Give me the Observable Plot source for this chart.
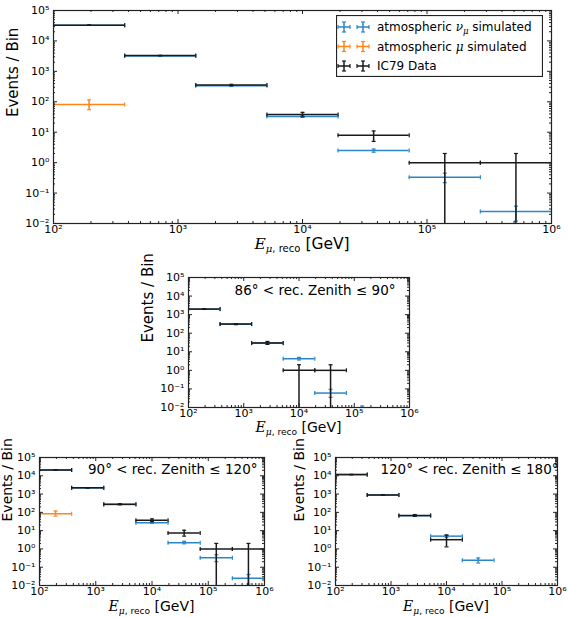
<!DOCTYPE html>
<html><head><meta charset="utf-8">
<script src="https://cdn.jsdelivr.net/npm/d3@7"></script>
<script src="https://cdn.jsdelivr.net/npm/@observablehq/plot@0.6"></script>
<style>
body{margin:0;background:#fff;}
#wrap{position:relative;width:568px;height:617px;font-family:"DejaVu Sans",sans-serif;overflow:hidden;}
.panel{position:absolute;}
.panel svg{overflow:visible;}
</style></head>
<body><div id="wrap"></div>
<script>
// ---------- binning (log-spaced reconstructed energy bins, GeV) ----------
const edgesLow  = [100, 373, 1389, 5179, 19307, 71969, 268270];
const edgesHigh = [373, 1389, 5179, 19307, 71969, 268270, 1000000];
const centers   = [193, 720, 2683, 10000, 37276, 138950, 517947];

const xTicks = [1e2, 1e3, 1e4, 1e5, 1e6];
const yTicks = [1e-2, 1e-1, 1e0, 1e1, 1e2, 1e3, 1e4, 1e5];

// ---------- all zenith ----------
const allNu       = [33000, 3200, 335, 33, 2.5, 0.33, 0.025];
const allNuLow    = [32500, 3120, 322, 31, 2.2, 0.22, 0.012];
const allNuHigh   = [33500, 3280, 348, 35, 2.8, 0.45, 0.037];
const allMu       = [82, null, null, null, null, null, null];
const allMuLow    = [55];
const allMuHigh   = [115];
const allData     = [33000, 3300, 355, 38, 8, 1, 1];
const allDataLow  = [32820, 3240, 336, 32, 5, 0.001, 0.001];
const allDataHigh = [33180, 3360, 374, 45, 11, 2, 2];

// ---------- 86° < zenith <= 90° ----------
const horNu       = [1950, 300, 29, 4.2, 0.06, 0.006, null];
const horNuLow    = [1900, 290, 27, 3.6, 0.035, 0.002];
const horNuHigh   = [2000, 310, 31, 5.0, 0.095, 0.012];
const horData     = [2000, 310, 30, 1, 1, null, null];
const horDataLow  = [1955, 292, 25, 0.001, 0.001];
const horDataHigh = [2045, 328, 36, 2, 2];

// ---------- 90° < zenith <= 120° ----------
const midNu       = [20500, 2150, 265, 27, 2.2, 0.33, 0.025];
const midNuLow    = [20200, 2100, 255, 25, 1.9, 0.2, 0.012];
const midNuHigh   = [20800, 2200, 275, 29, 2.6, 0.48, 0.04];
const midMu       = [85, null, null, null, null, null, null];
const midMuLow    = [62];
const midMuHigh   = [118];
const midData     = [21000, 2200, 280, 37, 7.5, 1, 1];
const midDataLow  = [20850, 2150, 263, 31, 5, 0.001, 0.001];
const midDataHigh = [21150, 2250, 297, 44, 10.5, 2, 2];

// ---------- 120° < zenith <= 180° ----------
const upNu        = [12000, 880, 66, 5.0, 0.24, null, null];
const upNuLow     = [11800, 860, 62, 4.3, 0.17];
const upNuHigh    = [12200, 900, 70, 5.8, 0.32];
const upData      = [11500, 900, 68, 3.2, null, null, null];
const upDataLow   = [11390, 870, 60, 1.3];
const upDataHigh  = [11610, 930, 76, 5.7];

const legendLabels = ["atmospheric ν_μ simulated", "atmospheric μ simulated", "IC79 Data"];
const colorNu = "#2b86c8", colorMu = "#ff8419", colorData = "#1a1a1a";
const legendColors = [colorNu, colorMu, colorData];

// ---------- helpers ----------
const supMap = {"-":"⁻","0":"⁰","1":"¹","2":"²","3":"³","4":"⁴","5":"⁵","6":"⁶","7":"⁷","8":"⁸","9":"⁹"};
const sup = d => "10" + String(Math.round(Math.log10(d))).split("").map(c => supMap[c]).join("");

function rows(vals, lo, hi) {
  const out = [];
  vals.forEach((v, i) => {
    if (v != null) out.push({c: centers[i], x1: edgesLow[i], x2: edgesHigh[i], v, lo: lo[i], hi: hi[i]});
  });
  return out;
}
const hCap = {draw(ctx, size) { const h = Math.sqrt(size / Math.PI); ctx.moveTo(-h, 0); ctx.lineTo(h, 0); }};
const vCap = {draw(ctx, size) { const h = Math.sqrt(size / Math.PI); ctx.moveTo(0, -h); ctx.lineTo(0, h); }};

function seriesMarks(data, color) {
  const line = {stroke: color, strokeWidth: 1.5, clip: true};
  const cap = {stroke: color, strokeWidth: 1.2, fill: "none", r: 2, clip: true};
  return [
    Plot.ruleY(data, {y: "v", x1: "x1", x2: "x2", ...line}),
    Plot.ruleX(data, {x: "c", y1: "lo", y2: "hi", ...line}),
    Plot.dot(data, {x: "c", y: "lo", symbol: hCap, ...cap}),
    Plot.dot(data, {x: "c", y: "hi", symbol: hCap, ...cap}),
    Plot.dot(data, {x: "x1", y: "v", symbol: vCap, ...cap}),
    Plot.dot(data, {x: "x2", y: "v", symbol: vCap, ...cap})
  ];
}

const minorX = [], minorY = [];
for (let k = 2; k < 6; k++) for (let m = 2; m < 10; m++) minorX.push(m * 10 ** k);
for (let k = -2; k < 5; k++) for (let m = 2; m < 10; m++) minorY.push(m * 10 ** k);

function tickMarks(iw, ih) {
  const s = {stroke: "#222", strokeWidth: 1};
  const M = 4, m = 2;
  return [
    Plot.ruleX(xTicks, {x: d => d, insetTop: ih - M, ...s}),
    Plot.ruleX(xTicks, {x: d => d, insetBottom: ih - M, ...s}),
    Plot.ruleX(minorX, {x: d => d, insetTop: ih - m, ...s}),
    Plot.ruleX(minorX, {x: d => d, insetBottom: ih - m, ...s}),
    Plot.ruleY(yTicks, {y: d => d, insetRight: iw - M, ...s}),
    Plot.ruleY(yTicks, {y: d => d, insetLeft: iw - M, ...s}),
    Plot.ruleY(minorY, {y: d => d, insetRight: iw - m, ...s}),
    Plot.ruleY(minorY, {y: d => d, insetLeft: iw - m, ...s})
  ];
}

const wrap = document.getElementById("wrap");

function panel({left, top, width, height, ml, mr, mt, mb, nu, mu, data, note, noteDx, noteDy, ylabDx, ylabSize, xlabDy, xlabSize}) {
  const iw = width - ml - mr, ih = height - mt - mb;
  const marks = [
    ...seriesMarks(nu, colorNu),
    ...(mu ? seriesMarks(mu, colorMu) : []),
    ...seriesMarks(data, colorData),
    Plot.frame({stroke: "#222", strokeWidth: 1.2}),
    ...tickMarks(iw, ih),
    Plot.axisX(xTicks, {tickFormat: sup, tickSize: 0, tickPadding: 2, fontSize: 11, label: null}),
    Plot.axisY(yTicks, {tickFormat: sup, tickSize: 0, tickPadding: 4, fontSize: 11, label: null}),
    Plot.text(["Events / Bin"], {text: d => d, frameAnchor: "left", dx: ylabDx, rotate: -90, fontSize: ylabSize, fill: "#000"})
  ];
  if (note) marks.push(Plot.text([note], {text: d => d, frameAnchor: "top-right", textAnchor: "end", lineAnchor: "middle", dx: noteDx, dy: noteDy, fontSize: 13.5, fill: "#000"}));
  const chart = Plot.plot({
    width, height, marginLeft: ml, marginRight: mr, marginTop: mt, marginBottom: mb,
    style: {fontFamily: "DejaVu Sans", fontSize: "11px", color: "#000", background: "transparent"},
    x: {type: "log", domain: [1e2, 1e6]},
    y: {type: "log", domain: [1e-2, 1e5]},
    marks
  });
  // x-axis label with math-like formatting
  const svg = d3.select(chart);
  const t = svg.append("text")
    .attr("x", ml + iw / 2).attr("y", mt + ih + xlabDy)
    .attr("text-anchor", "middle").attr("font-size", xlabSize).attr("fill", "#000")
    .attr("font-family", "DejaVu Sans");
  t.append("tspan").attr("font-family", "DejaVu Serif").attr("font-style", "italic").text("E");
  const s1 = t.append("tspan").attr("font-size", xlabSize * 0.65).attr("dy", 3);
  s1.append("tspan").attr("font-family", "DejaVu Serif").attr("font-style", "italic").text("μ");
  s1.append("tspan").text(", reco");
  t.append("tspan").attr("dy", -3).text(" [GeV]");
  const div = document.createElement("div");
  div.className = "panel";
  div.style.left = left + "px"; div.style.top = top + "px";
  div.appendChild(chart);
  wrap.appendChild(div);
  return chart;
}

panel({left: 0, top: 0, width: 568, height: 260, ml: 53, mr: 17, mt: 10, mb: 37,
  nu: rows(allNu, allNuLow, allNuHigh), mu: rows(allMu, allMuLow, allMuHigh), data: rows(allData, allDataLow, allDataHigh),
  ylabDx: -40, ylabSize: 15, xlabDy: 26, xlabSize: 15.5});

panel({left: 130, top: 267, width: 300, height: 176, ml: 58, mr: 21, mt: 10, mb: 36,
  nu: rows(horNu, horNuLow, horNuHigh), mu: null, data: rows(horData, horDataLow, horDataHigh),
  note: "86° < rec. Zenith ≤ 90°", noteDx: -14, noteDy: 13, ylabDx: -40, ylabSize: 15, xlabDy: 25, xlabSize: 14});

panel({left: 0, top: 447, width: 290, height: 170, ml: 39, mr: 26, mt: 10, mb: 32,
  nu: rows(midNu, midNuLow, midNuHigh), mu: rows(midMu, midMuLow, midMuHigh), data: rows(midData, midDataLow, midDataHigh),
  note: "90° < rec. Zenith ≤ 120°", noteDx: -7, noteDy: 12, ylabDx: -32, ylabSize: 14, xlabDy: 26, xlabSize: 14});

panel({left: 285, top: 447, width: 283, height: 170, ml: 50, mr: 11, mt: 10, mb: 32,
  nu: rows(upNu, upNuLow, upNuHigh), mu: null, data: rows(upData, upDataLow, upDataHigh),
  note: "120° < rec. Zenith ≤ 180°", noteDx: 1, noteDy: 12, ylabDx: -36, ylabSize: 14, xlabDy: 26, xlabSize: 14});

// ---------- legend (top panel) ----------
const lw = 207, lh = 62;
const leg = d3.select(wrap).append("svg")
  .attr("width", lw).attr("height", lh)
  .style("position", "absolute").style("left", "336px").style("top", "15px");
leg.append("rect").attr("x", 0.5).attr("y", 0.5).attr("width", lw - 1).attr("height", lh - 1)
  .attr("fill", "#fff").attr("stroke", "#222").attr("stroke-width", 1.2);
legendLabels.forEach((lab, i) => {
  const y = 12 + i * 19.5;
  const g = leg.append("g").attr("stroke", legendColors[i]).attr("stroke-width", 1.5);
  [8, 27].forEach(cx => {
    g.append("line").attr("x1", cx - 6).attr("x2", cx + 6).attr("y1", y).attr("y2", y);
    g.append("line").attr("x1", cx).attr("x2", cx).attr("y1", y - 5).attr("y2", y + 5);
    g.append("line").attr("x1", cx - 6).attr("x2", cx - 6).attr("y1", y - 2).attr("y2", y + 2).attr("stroke-width", 1.2);
    g.append("line").attr("x1", cx + 6).attr("x2", cx + 6).attr("y1", y - 2).attr("y2", y + 2).attr("stroke-width", 1.2);
    g.append("line").attr("x1", cx - 2).attr("x2", cx + 2).attr("y1", y - 5).attr("y2", y - 5).attr("stroke-width", 1.2);
    g.append("line").attr("x1", cx - 2).attr("x2", cx + 2).attr("y1", y + 5).attr("y2", y + 5).attr("stroke-width", 1.2);
  });
  const t = leg.append("text").attr("x", 41).attr("y", y).attr("dy", "0.35em")
    .attr("font-size", 12).attr("font-family", "DejaVu Sans").attr("fill", "#000");
  const m = lab.match(/^(.*?)(ν_μ|μ)(.*)$/);
  if (m) {
    t.append("tspan").text(m[1]);
    if (m[2] === "ν_μ") {
      t.append("tspan").attr("font-family", "DejaVu Serif").attr("font-style", "italic").text("ν");
      t.append("tspan").attr("font-family", "DejaVu Serif").attr("font-style", "italic").attr("font-size", 8.5).attr("dy", 3).text("μ");
      t.append("tspan").attr("dy", -3).text(m[3]);
    } else {
      t.append("tspan").attr("font-family", "DejaVu Serif").attr("font-style", "italic").text("μ");
      t.append("tspan").text(m[3]);
    }
  } else {
    t.text(lab);
  }
});
</script>
</body></html>
